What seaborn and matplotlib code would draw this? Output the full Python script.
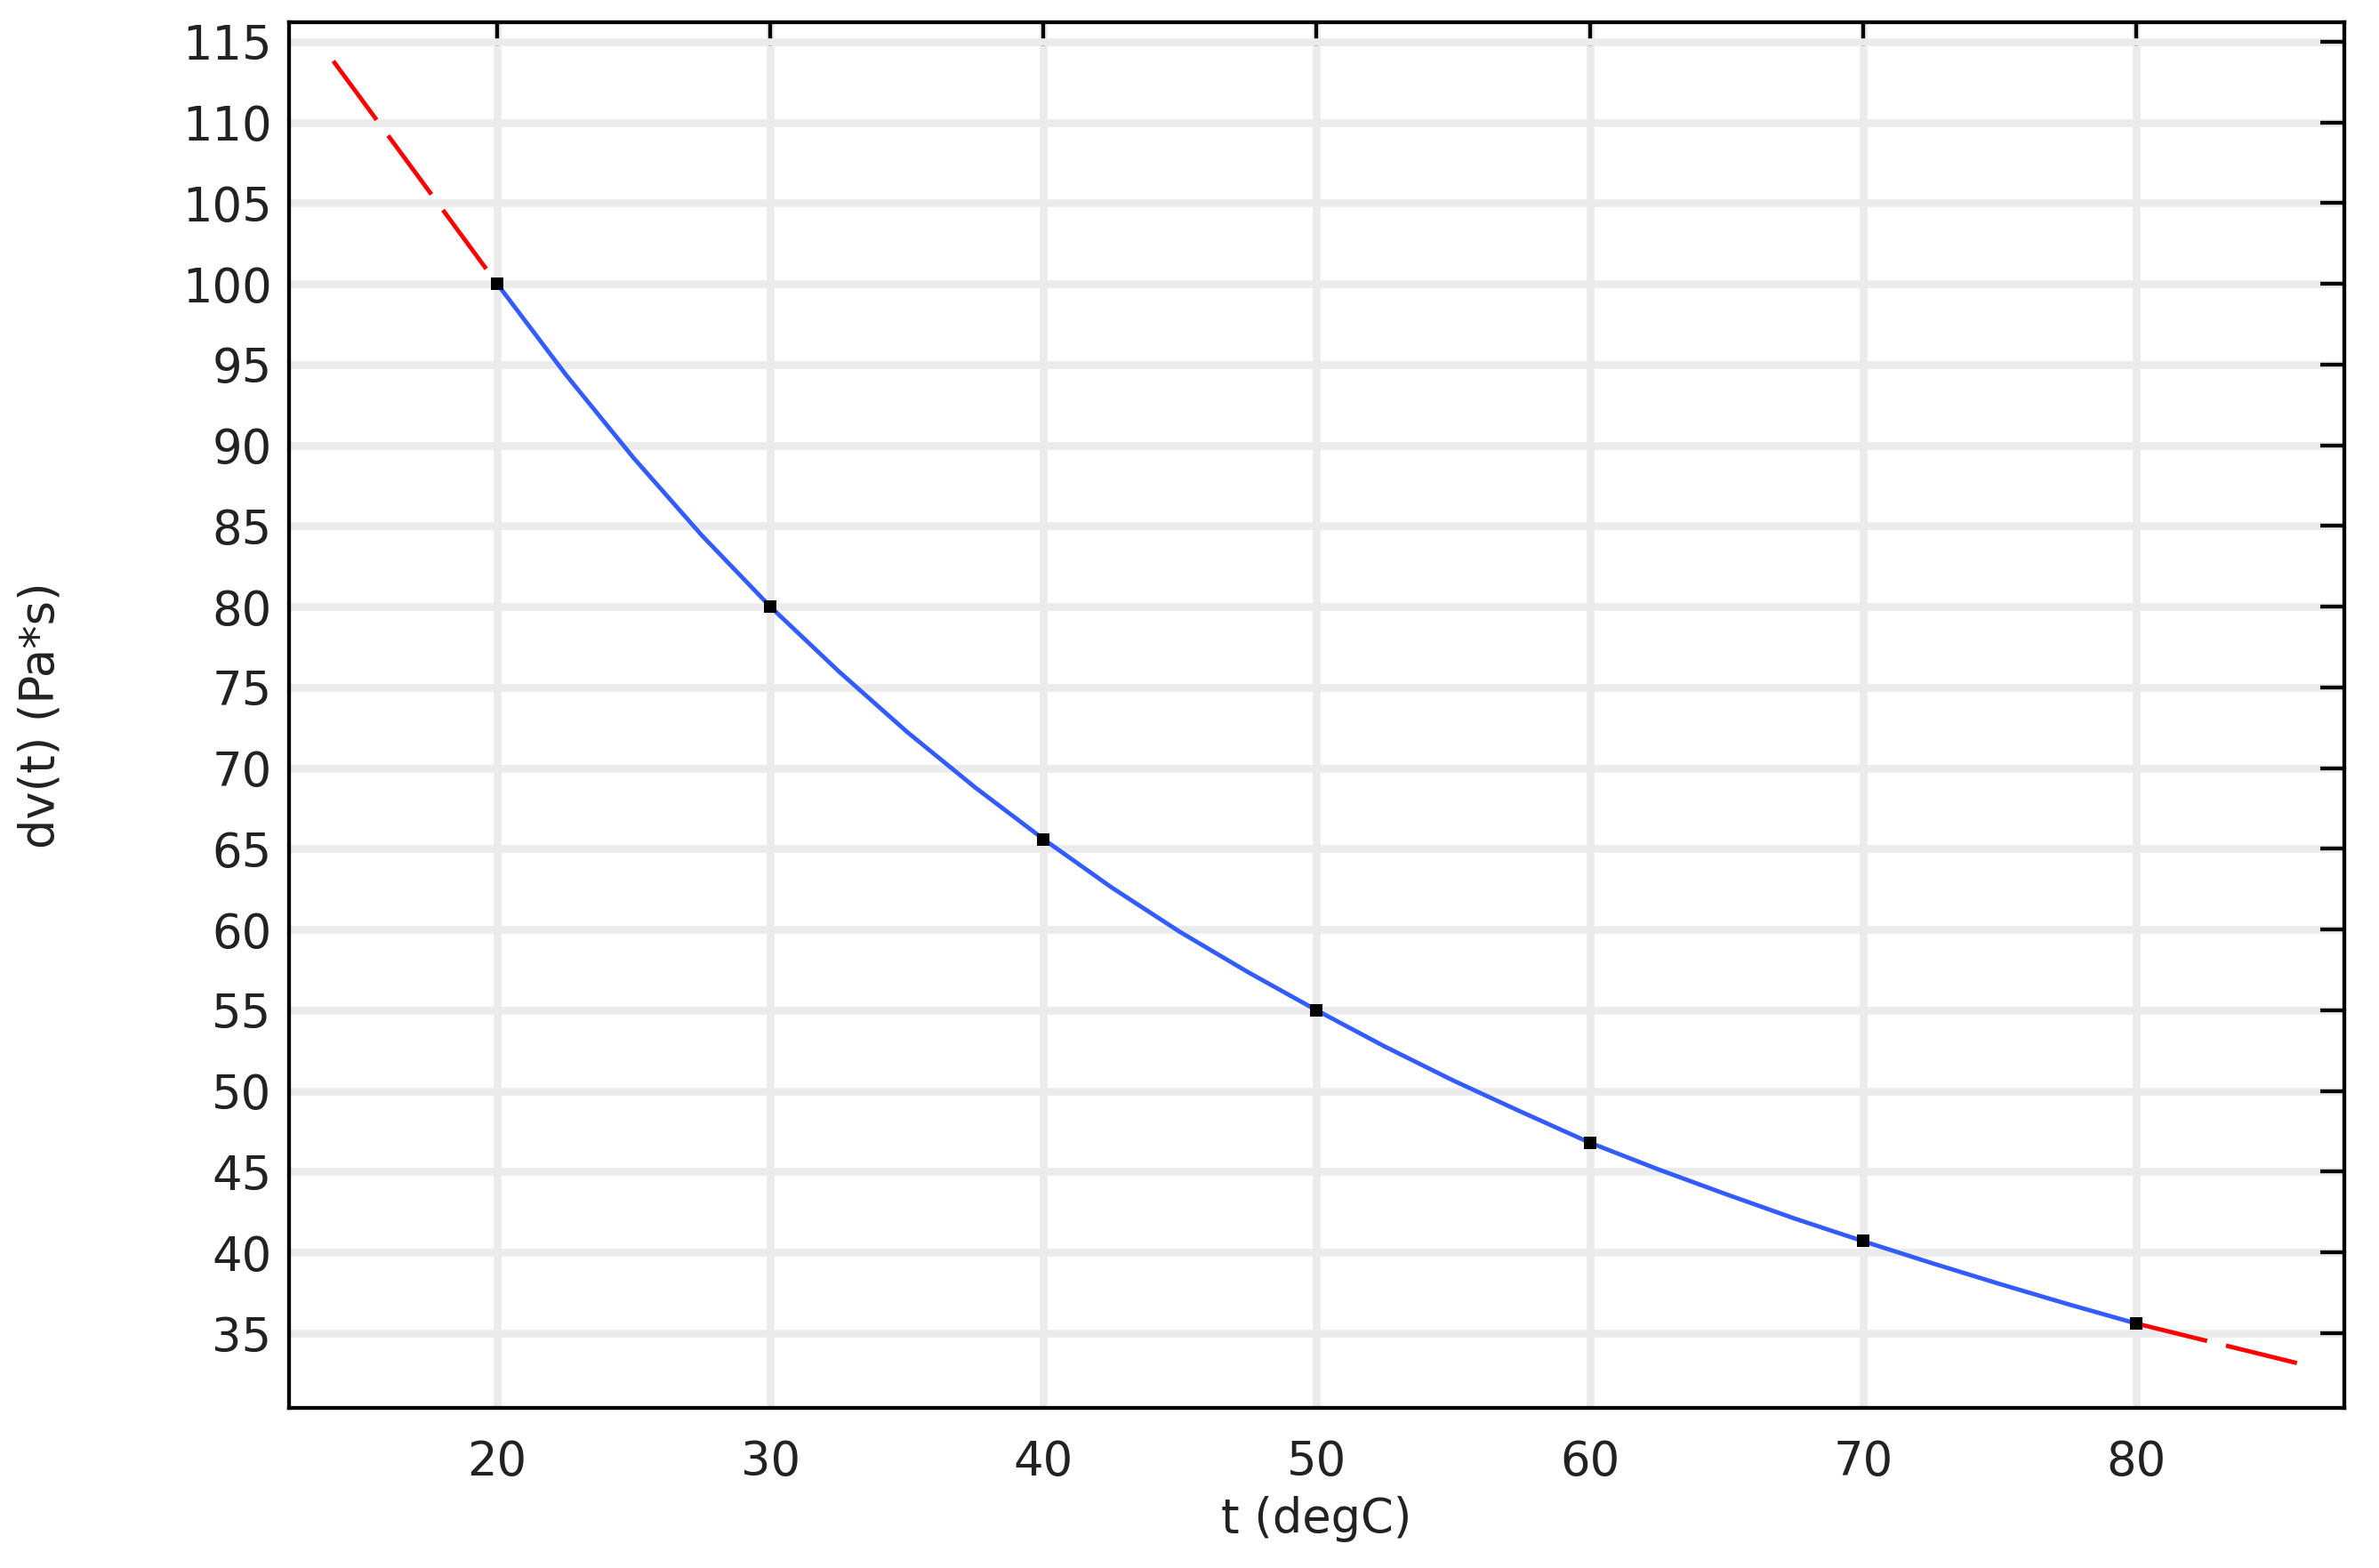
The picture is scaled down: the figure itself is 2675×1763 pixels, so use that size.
import numpy as np
import pandas as pd
import seaborn as sns
import matplotlib
matplotlib.use("Agg")
import matplotlib.pyplot as plt

# Data
t_points = [20, 30, 40, 50, 60, 70, 80]
dv_points = [100, 80, 65.6, 55.0, 46.8, 40.7, 35.6]

t_curve = [20, 22.5, 25, 27.5, 30, 32.5, 35, 37.5, 40, 42.5, 45, 47.5, 50,
           52.5, 55, 57.5, 60, 62.5, 65, 67.5, 70, 72.5, 75, 77.5, 80]
dv_curve = [100, 94.4, 89.2, 84.4, 80, 76.0, 72.25, 68.8, 65.6, 62.6, 59.85, 57.35, 55.0,
            52.75, 50.65, 48.7, 46.8, 45.15, 43.6, 42.1, 40.7, 39.35, 38.05, 36.8, 35.6]

t_extrap_lo = [14, 20]
dv_extrap_lo = [113.8, 100]
t_extrap_hi = [80, 86]
dv_extrap_hi = [35.6, 33.1]

x_ticks = [20, 30, 40, 50, 60, 70, 80]
y_ticks = list(range(35, 116, 5))

sns.set_style("white")
plt.rcParams['font.family'] = ['DejaVu Sans']

fig = plt.figure(figsize=(26.75, 17.63), dpi=100)
ax = fig.add_axes([0.1215, 0.1021, 0.8639, 0.8837])

# Curves
sns.lineplot(x=t_curve, y=dv_curve, color='#335cff', linewidth=3.5, ax=ax, zorder=3)
sns.lineplot(x=t_extrap_lo, y=dv_extrap_lo, color='#ff0000', linewidth=3.5, ax=ax, zorder=3)
sns.lineplot(x=t_extrap_hi, y=dv_extrap_hi, color='#ff0000', linewidth=3.5, ax=ax, zorder=3)
for ln in ax.lines[1:]:
    ln.set_dashes((16.9, 4.5))

# Data points
sns.scatterplot(x=t_points, y=dv_points, marker='s', s=90, color='black',
                linewidth=0, ax=ax, zorder=4)

ax.set_xlim(12.38, 87.62)
ax.set_ylim(30.37, 116.2)
ax.set_xticks(x_ticks)
ax.set_yticks(y_ticks)

ax.grid(True, color='#ebebeb', linewidth=6.2, zorder=0)
ax.set_axisbelow(True)

for sp in ax.spines.values():
    sp.set_visible(True)
    sp.set_color('black')
    sp.set_linewidth(3.1)

ax.tick_params(axis='both', direction='in', length=19.5, width=3.1,
               top=True, right=True, labelsize=38, colors='black')
ax.tick_params(axis='x', pad=25)
ax.tick_params(axis='y', pad=14)
for lab in ax.get_xticklabels() + ax.get_yticklabels():
    lab.set_color('#222222')

ax.set_xlabel("t (degC)", fontsize=38, color='#222222', labelpad=9)
ax.set_ylabel("dv(t) (Pa*s)", fontsize=38, color='#222222', labelpad=96)

fig.savefig("out.png", dpi=100)
